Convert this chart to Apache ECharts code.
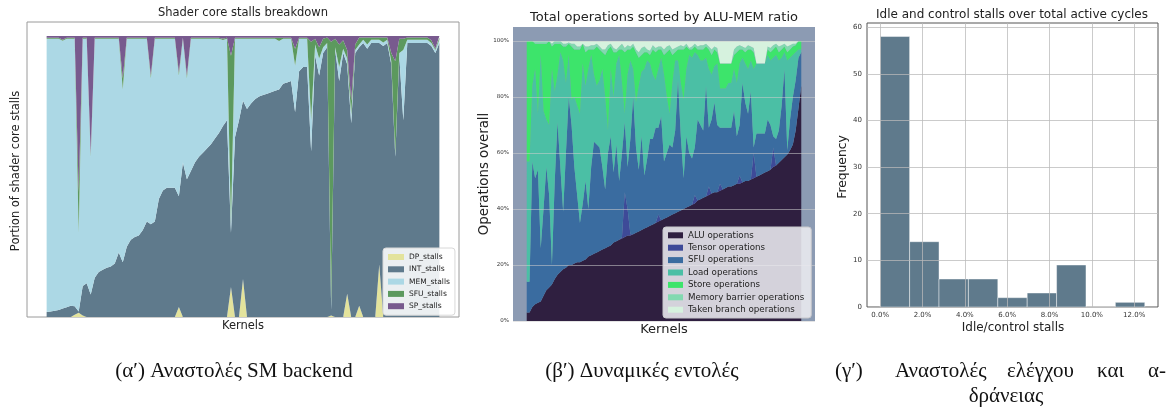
<!DOCTYPE html>
<html>
<head>
<meta charset="utf-8">
<script src="https://cdn.jsdelivr.net/npm/echarts@6/dist/echarts.min.js"></script>
<style>
  html, body { margin: 0; padding: 0; background: #fff; }
  #chart { width: 1173px; height: 410px; }
</style>
</head>
<body>
<div id="chart"></div>
<script>
// ---------- (a) shader core stalls, fraction per kernel ----------
const stallNames = ['DP_stalls', 'INT_stalls', 'MEM_stalls', 'SFU_stalls', 'SP_stalls'];
const dpStalls = [
  0, 0, 0, 0, 0, 0, 0, 0.008, 0.015, 0.005,
  0, 0, 0, 0, 0, 0, 0, 0, 0, 0,
  0, 0, 0, 0, 0, 0, 0, 0, 0, 0,
  0, 0, 0, 0.036, 0, 0, 0, 0, 0, 0,
  0, 0, 0, 0, 0, 0, 0.107, 0, 0, 0.135,
  0, 0, 0, 0, 0, 0, 0, 0, 0, 0,
  0, 0, 0, 0, 0, 0, 0, 0, 0, 0,
  0, 0.005, 0, 0, 0, 0.083, 0, 0, 0.04, 0,
  0, 0, 0, 0.187, 0, 0, 0, 0, 0, 0,
  0, 0, 0, 0, 0, 0, 0, 0, 0
];
const intStalls = [
  0.018, 0.02, 0.022, 0.025, 0.03, 0.035, 0.04, 0.03, 0.005, 0.105,
  0.12, 0.08, 0.14, 0.16, 0.168, 0.175, 0.18, 0.19, 0.23, 0.195,
  0.25, 0.275, 0.285, 0.29, 0.31, 0.34, 0.33, 0.34, 0.42, 0.45,
  0.46, 0.46, 0.46, 0.394, 0.55, 0.49, 0.52, 0.55, 0.57, 0.585,
  0.6, 0.615, 0.635, 0.655, 0.68, 0.7, 0.193, 0.64, 0.7, 0.635,
  0.74, 0.76, 0.775, 0.785, 0.79, 0.795, 0.8, 0.805, 0.81, 0.83,
  0.835, 0.84, 0.73, 0.875, 0.89, 0.89, 0.59, 0.93, 0.86, 0.94,
  0.96, 0.02, 0.95, 0.84, 0.94, 0.817, 0.69, 0.94, 0.92, 0.975,
  0.955, 0.975, 0.975, 0.788, 0.965, 0.975, 0.9, 0.57, 0.93, 0.7,
  0.975, 0.975, 0.975, 0.975, 0.975, 0.975, 0.965, 0.94, 0.975
];
const memStalls = [
  0.972, 0.97, 0.968, 0.965, 0.953, 0.955, 0.95, 0.952, 0.28, 0.88,
  0.87, 0.49, 0.85, 0.83, 0.822, 0.815, 0.81, 0.8, 0.76, 0.615,
  0.74, 0.715, 0.705, 0.7, 0.68, 0.65, 0.52, 0.65, 0.57, 0.54,
  0.53, 0.53, 0.53, 0.43, 0.44, 0.36, 0.47, 0.44, 0.42, 0.405,
  0.39, 0.375, 0.355, 0.335, 0.306, 0.29, 0.03, 0.35, 0.29, 0.22,
  0.25, 0.23, 0.215, 0.205, 0.2, 0.195, 0.19, 0.185, 0.172, 0.16,
  0.155, 0.15, 0.165, 0.115, 0.1, 0.1, 0.11, 0.04, 0.06, 0.02,
  0.015, 0.02, 0.01, 0.05, 0.015, 0.02, 0.03, 0.01, 0.01, 0.012,
  0.015, 0.012, 0.012, 0.012, 0.012, 0.012, 0.01, 0.01, 0.01, 0.25,
  0.012, 0.012, 0.012, 0.012, 0.012, 0.012, 0.01, 0.01, 0.012
];
const sfuStalls = [
  0.004, 0.004, 0.004, 0.004, 0.004, 0.004, 0.004, 0.004, 0.145, 0.004,
  0.004, 0.01, 0.004, 0.004, 0.004, 0.004, 0.004, 0.004, 0.004, 0.04,
  0.004, 0.004, 0.004, 0.004, 0.004, 0.004, 0.01, 0.004, 0.004, 0.004,
  0.004, 0.004, 0.004, 0.01, 0.004, 0.01, 0.004, 0.004, 0.004, 0.004,
  0.004, 0.004, 0.004, 0.004, 0.004, 0.004, 0.6, 0.004, 0.004, 0.004,
  0.004, 0.004, 0.004, 0.004, 0.004, 0.004, 0.004, 0.004, 0.012, 0.004,
  0.004, 0.004, 0.06, 0.004, 0.004, 0.004, 0.28, 0.02, 0.04, 0.03,
  0.02, 0.935, 0.03, 0.08, 0.03, 0.03, 0.05, 0.02, 0.025, 0.008,
  0.025, 0.008, 0.008, 0.008, 0.018, 0.008, 0.03, 0.33, 0.05, 0.04,
  0.008, 0.008, 0.008, 0.008, 0.008, 0.008, 0.01, 0.005, 0.008
];
const spStalls = [
  0.006, 0.006, 0.006, 0.006, 0.013, 0.006, 0.006, 0.006, 0.555, 0.006,
  0.006, 0.42, 0.006, 0.006, 0.006, 0.006, 0.006, 0.006, 0.006, 0.15,
  0.006, 0.006, 0.006, 0.006, 0.006, 0.006, 0.14, 0.006, 0.006, 0.006,
  0.006, 0.006, 0.006, 0.13, 0.006, 0.14, 0.006, 0.006, 0.006, 0.006,
  0.006, 0.006, 0.006, 0.006, 0.01, 0.006, 0.07, 0.006, 0.006, 0.006,
  0.006, 0.006, 0.006, 0.006, 0.006, 0.006, 0.006, 0.006, 0.006, 0.006,
  0.006, 0.006, 0.045, 0.006, 0.006, 0.006, 0.02, 0.01, 0.04, 0.01,
  0.005, 0.02, 0.01, 0.03, 0.015, 0.05, 0.23, 0.03, 0.005, 0.005,
  0.005, 0.005, 0.005, 0.005, 0.005, 0.005, 0.06, 0.09, 0.01, 0.01,
  0.005, 0.005, 0.005, 0.005, 0.005, 0.005, 0.015, 0.045, 0.005
];

// ---------- (b) dynamic instruction mix, sorted by ALU-MEM ratio ----------
const opNames = ['ALU operations', 'Tensor operations', 'SFU operations', 'Load operations',
  'Store operations', 'Memory barrier operations', 'Taken branch operations'];
const aluOps = [
  0.03, 0.03, 0.05, 0.06, 0.065, 0.07, 0.09, 0.11, 0.12, 0.13,
  0.15, 0.165, 0.175, 0.185, 0.19, 0.2, 0.2, 0.205, 0.21, 0.21,
  0.215, 0.22, 0.23, 0.235, 0.24, 0.245, 0.25, 0.255, 0.26, 0.265,
  0.27, 0.28, 0.285, 0.29, 0.295, 0.3, 0.305, 0.305, 0.31, 0.315,
  0.32, 0.325, 0.33, 0.335, 0.34, 0.345, 0.35, 0.355, 0.36, 0.365,
  0.37, 0.375, 0.38, 0.385, 0.39, 0.395, 0.4, 0.405, 0.41, 0.415,
  0.42, 0.43, 0.435, 0.44, 0.445, 0.45, 0.455, 0.46, 0.46, 0.465,
  0.47, 0.475, 0.48, 0.48, 0.485, 0.49, 0.49, 0.495, 0.5, 0.5,
  0.505, 0.51, 0.515, 0.52, 0.525, 0.53, 0.535, 0.54, 0.55, 0.555,
  0.565, 0.575, 0.585, 0.595, 0.61, 0.63, 0.68, 0.76, 0.84
];
const tensorOps = [
  0, 0, 0, 0, 0, 0, 0, 0, 0, 0,
  0, 0, 0, 0, 0, 0, 0, 0, 0, 0,
  0, 0, 0, 0, 0, 0, 0, 0, 0, 0,
  0, 0, 0, 0, 0.005, 0.16, 0.095, 0.005, 0, 0,
  0, 0, 0, 0, 0, 0, 0, 0.025, 0, 0,
  0, 0, 0, 0, 0, 0, 0, 0, 0, 0,
  0.03, 0, 0, 0, 0, 0.03, 0, 0, 0, 0.025,
  0, 0, 0, 0, 0, 0, 0.03, 0, 0, 0,
  0, 0.09, 0, 0, 0, 0, 0, 0, 0.07, 0,
  0, 0, 0, 0, 0, 0, 0, 0, 0
];
const sfuOps = [
  0.11, 0.11, 0.52, 0.45, 0.475, 0.19, 0.31, 0.44, 0.33, 0.07,
  0.35, 0.545, 0.375, 0.205, 0.41, 0.6, 0.5, 0.345, 0.24, 0.14,
  0.205, 0.28, 0.17, 0.315, 0.4, 0.385, 0.37, 0.295, 0.21, 0.335,
  0.39, 0.25, 0.345, 0.21, 0.3, 0.25, 0.15, 0.34, 0.49, 0.305,
  0.22, 0.335, 0.19, 0.245, 0.31, 0.305, 0.34, 0.31, 0.37, 0.205,
  0.23, 0.255, 0.24, 0.295, 0.47, 0.265, 0.11, 0.255, 0.19, 0.165,
  0.17, 0.29, 0.265, 0.24, 0.395, 0.21, 0.265, 0.32, 0.24, 0.2,
  0.22, 0.215, 0.21, 0.21, 0.265, 0.17, 0.18, 0.355, 0.28, 0.24,
  0.315, 0.02, 0.155, 0.15, 0.145, 0.14, 0.185, 0.16, 0.04, 0.095,
  0.115, 0.195, 0.315, 0.015, 0.11, 0.17, 0.18, 0.18, 0.12
];
const loadOps = [
  0.43, 0.43, 0.27, 0.39, 0.2, 0.69, 0.35, 0.17, 0.25, 0.7,
  0.32, 0.17, 0.41, 0.54, 0.25, 0.15, 0.09, 0.25, 0.32, 0.39,
  0.5, 0.34, 0.5, 0.4, 0.24, 0.21, 0.24, 0.35, 0.33, 0.08,
  0.24, 0.27, 0.29, 0.45, 0.25, 0.03, 0.33, 0.28, 0.1, 0.16,
  0.3, 0.23, 0.38, 0.35, 0.27, 0.23, 0.17, 0.21, 0.21, 0.31,
  0.2, 0.11, 0.23, 0.25, 0.07, 0.19, 0.28, 0.24, 0.35, 0.36,
  0.34, 0.23, 0.23, 0.25, 0.1, 0.21, 0.16, 0.13, 0.22, 0.14,
  0.14, 0.14, 0.16, 0.16, 0.15, 0.19, 0.22, 0.09, 0.14, 0.16,
  0.11, 0.28, 0.25, 0.25, 0.25, 0.25, 0.23, 0.23, 0.28, 0.3,
  0.25, 0.17, 0.06, 0.32, 0.22, 0.15, 0.1, 0.03, 0.01
];
const storeOps = [
  0.43, 0.43, 0.16, 0.09, 0.25, 0.04, 0.24, 0.27, 0.3, 0.08,
  0.17, 0.11, 0.03, 0.05, 0.13, 0.04, 0.19, 0.17, 0.2, 0.23,
  0.07, 0.12, 0.07, 0.02, 0.09, 0.14, 0.11, 0.06, 0.15, 0.29,
  0.08, 0.16, 0.04, 0.02, 0.12, 0.22, 0.09, 0.04, 0.08, 0.18,
  0.1, 0.06, 0.06, 0.03, 0.03, 0.09, 0.1, 0.07, 0.03, 0.07,
  0.16, 0.23, 0.1, 0.03, 0.04, 0.12, 0.18, 0.08, 0.02, 0.03,
  0.02, 0.02, 0.04, 0.04, 0.04, 0.07, 0.07, 0.06, 0.04, 0.09,
  0.09, 0.09, 0.07, 0.07, 0.05, 0.11, 0.05, 0.03, 0.04, 0.07,
  0.04, 0.06, 0, 0, 0, 0, 0.02, 0.03, 0.03, 0.03,
  0.03, 0.03, 0.02, 0.03, 0.03, 0.03, 0.025, 0.03, 0.03
];
const barrierOps = [
  0, 0, 0, 0.01, 0.01, 0.01, 0.01, 0.01, 0, 0.01,
  0.01, 0.01, 0.01, 0.01, 0.01, 0.005, 0.01, 0.02, 0.01, 0.01,
  0, 0.02, 0.01, 0.015, 0.015, 0.01, 0.01, 0.01, 0.02, 0.015,
  0.01, 0.015, 0.01, 0.01, 0.02, 0.015, 0.015, 0.01, 0.01, 0.01,
  0.02, 0.025, 0.02, 0.01, 0.015, 0.015, 0.015, 0.01, 0.01, 0.02,
  0.02, 0.015, 0.02, 0.015, 0.01, 0.015, 0.01, 0.01, 0.005, 0.01,
  0.01, 0.01, 0.015, 0.015, 0.01, 0.01, 0.02, 0.01, 0.015, 0,
  0, 0, 0, 0, 0.02, 0.02, 0.015, 0.01, 0.015, 0.015,
  0.01, 0.015, 0, 0, 0, 0, 0.01, 0.015, 0.015, 0.01,
  0.02, 0.015, 0.01, 0.02, 0.015, 0.01, 0.005, 0, 0
];
const branchOps = [
  0, 0, 0, 0, 0, 0, 0, 0, 0, 0.01,
  0, 0, 0, 0.01, 0.01, 0.005, 0.01, 0.01, 0.02, 0.02,
  0.01, 0.02, 0.02, 0.015, 0.015, 0.01, 0.02, 0.03, 0.03, 0.015,
  0.01, 0.025, 0.03, 0.02, 0.01, 0.025, 0.015, 0.02, 0.01, 0.03,
  0.04, 0.025, 0.02, 0.03, 0.035, 0.015, 0.025, 0.02, 0.02, 0.03,
  0.02, 0.015, 0.03, 0.025, 0.02, 0.015, 0.02, 0.01, 0.025, 0.02,
  0.01, 0.02, 0.015, 0.015, 0.01, 0.02, 0.03, 0.02, 0.025, 0.08,
  0.08, 0.08, 0.08, 0.08, 0.03, 0.02, 0.015, 0.02, 0.025, 0.015,
  0.02, 0.025, 0.08, 0.08, 0.08, 0.08, 0.02, 0.025, 0.015, 0.01,
  0.02, 0.015, 0.01, 0.02, 0.015, 0.01, 0.01, 0, 0
];
const pctTicks = [0, 0.2, 0.4, 0.6, 0.8, 1.0];

// ---------- (c) histogram of idle/control stalls (% of active cycles) ----------
const binEdges = [0, 1.389, 2.778, 4.167, 5.556, 6.944, 8.333, 9.722, 11.111, 12.5];
const binCounts = [58, 14, 6, 6, 2, 3, 9, 0, 1];
const histXTicks = [0, 2, 4, 6, 8, 10, 12];
const histYTicks = [0, 10, 20, 30, 40, 50, 60];

const stallColors = ['#e3e39c', '#5f7a8c', '#acd8e5', '#5c995e', '#785a8e'];
const opColors = ['#2f1f40', '#3e4a98', '#3a6ca0', '#4bbfa5', '#3de46b', '#82d9b0', '#d6f2de'];

const SANS = 'DejaVu Sans';
const SERIF = 'Liberation Serif';

// Stacked area layer. Each row is [share, kernel index]; the share column comes
// first so that it is the dimension ECharts stacks on.
function areaSeries(name, values, color, axis, stack) {
  return {
    name, type: 'line', stack,
    xAxisIndex: axis, yAxisIndex: axis,
    data: values.map((v, i) => [v, i]),
    encode: { x: 1, y: 0 },
    symbol: 'none', showSymbol: false, silent: true,
    color,
    itemStyle: { color },
    lineStyle: { width: 0, color },
    areaStyle: { color, opacity: 1 }
  };
}

const stallSeries = [dpStalls, intStalls, memStalls, sfuStalls, spStalls]
  .map((vals, k) => areaSeries(stallNames[k], vals, stallColors[k], 0, 'stalls'));
const opSeries = [aluOps, tensorOps, sfuOps, loadOps, storeOps, barrierOps, branchOps]
  .map((vals, k) => areaSeries(opNames[k], vals, opColors[k], 1, 'ops'));

const histSeries = {
  type: 'custom', xAxisIndex: 2, yAxisIndex: 2, silent: true,
  data: binCounts.map((c, i) => [binEdges[i], binEdges[i + 1], c]),
  encode: { x: [0, 1], y: 2 },
  renderItem: (params, api) => {
    const p0 = api.coord([api.value(0), api.value(2)]);
    const p1 = api.coord([api.value(1), 0]);
    return {
      type: 'rect',
      shape: { x: p0[0], y: p0[1], width: p1[0] - p0[0], height: p1[1] - p0[1] },
      style: { fill: '#5f7a8c', stroke: 'rgba(255,255,255,0.55)', lineWidth: 0.8 }
    };
  }
};

function txt(text, x, y, size, opts) {
  opts = opts || {};
  return {
    type: 'text', x, y, rotation: opts.rot || 0, z: 100,
    style: {
      text, fontSize: size, fontFamily: opts.font || SANS, fill: opts.color || '#222',
      align: opts.align || 'center', textAlign: opts.align || 'center',
      verticalAlign: 'middle', textVerticalAlign: 'middle'
    }
  };
}
const CAP = { font: SERIF, color: '#111' };
const capL = { font: SERIF, color: '#111', align: 'left' };

const chart = echarts.init(document.getElementById('chart'), null, { renderer: 'canvas' });
chart.setOption({
  animation: false,
  backgroundColor: '#fff',
  grid: [
    { left: 27, top: 22, width: 432, height: 295, show: true, borderColor: '#9a9a9a', borderWidth: 1, backgroundColor: '#fff' },
    { left: 513, top: 27, width: 302, height: 294, show: true, borderWidth: 0, backgroundColor: '#8c9bb3' },
    { left: 867, top: 23, width: 291, height: 284, show: true, borderColor: '#555', borderWidth: 1, backgroundColor: '#fff' }
  ],
  xAxis: [
    { gridIndex: 0, type: 'value', min: -4.9, max: 102.9, show: false },
    { gridIndex: 1, type: 'value', min: -4.9, max: 102.9, show: false },
    {
      gridIndex: 2, type: 'value', min: -0.625, max: 13.125, z: 5,
      axisLine: { show: false },
      axisTick: { show: false, customValues: histXTicks },
      axisLabel: { customValues: histXTicks, formatter: v => v.toFixed(1) + '%', fontSize: 7, color: '#333', fontFamily: SANS, margin: 5 },
      splitLine: { show: true, lineStyle: { color: 'rgba(185,185,185,0.75)', width: 1 } }
    }
  ],
  yAxis: [
    { gridIndex: 0, type: 'value', min: 0, max: 1.05, show: false },
    {
      gridIndex: 1, type: 'value', min: 0, max: 1.05, z: 5,
      axisLine: { show: false },
      axisTick: { show: false, customValues: pctTicks },
      axisLabel: { customValues: pctTicks, formatter: v => Math.round(v * 100) + '%', fontSize: 5.5, color: '#333', fontFamily: SANS, margin: 4 },
      splitLine: { show: true, lineStyle: { color: 'rgba(205,205,205,0.55)', width: 1 } }
    },
    {
      gridIndex: 2, type: 'value', min: 0, max: 60.9, z: 5,
      axisLine: { show: false },
      axisTick: { show: false, customValues: histYTicks },
      axisLabel: { customValues: histYTicks, fontSize: 7, color: '#333', fontFamily: SANS, margin: 5 },
      splitLine: { show: true, lineStyle: { color: 'rgba(185,185,185,0.75)', width: 1 } }
    }
  ],
  legend: [
    {
      data: stallNames, left: 383, top: 248, orient: 'vertical', icon: 'rect',
      itemWidth: 16, itemHeight: 6, itemGap: 2.3, selectedMode: false, z: 10,
      padding: [4, 5, 4, 5], backgroundColor: 'rgba(255,255,255,0.88)',
      borderColor: '#d8d8d8', borderWidth: 1, borderRadius: 3,
      textStyle: { fontSize: 7.5, fontFamily: SANS, color: '#222', lineHeight: 10 }
    },
    {
      data: opNames, left: 663, top: 227, orient: 'vertical', icon: 'rect',
      itemWidth: 15, itemHeight: 6, itemGap: 1.8, selectedMode: false, z: 10,
      padding: [3, 7, 3, 5], backgroundColor: 'rgba(236,236,240,0.88)',
      borderColor: '#c8c8cc', borderWidth: 1, borderRadius: 3,
      textStyle: { fontSize: 8.7, fontFamily: SANS, color: '#222', lineHeight: 10.6 }
    }
  ],
  series: [...stallSeries, ...opSeries, histSeries],
  graphic: [
    txt('Shader core stalls breakdown', 243, 13, 11.5),
    txt('Portion of shader core stalls', 16, 171, 11.5, { rot: Math.PI / 2 }),
    txt('Kernels', 243, 326, 11.5),
    txt('Total operations sorted by ALU-MEM ratio', 664, 18, 13),
    txt('Operations overall', 485, 174, 13.3, { rot: Math.PI / 2 }),
    txt('Kernels', 664, 330, 13),
    txt('Idle and control stalls over total active cycles', 1012, 15, 12),
    txt('Frequency', 843, 167, 12.3, { rot: Math.PI / 2 }),
    txt('Idle/control stalls', 1013, 328, 12),
    txt('(α′) Αναστολές SM backend', 234, 371, 21, CAP),
    txt('(β′) Δυναμικές εντολές', 642, 371, 21, CAP),
    txt('(γ′)', 835, 371, 21, capL),
    txt('Αναστολές', 895, 371, 21, capL),
    txt('ελέγχου', 1007, 371, 21, capL),
    txt('και', 1097, 371, 21, capL),
    txt('α-', 1166, 371, 21, { font: SERIF, color: '#111', align: 'right' }),
    txt('δράνειας', 1006, 396, 21, CAP)
  ]
});
</script>
</body>
</html>
